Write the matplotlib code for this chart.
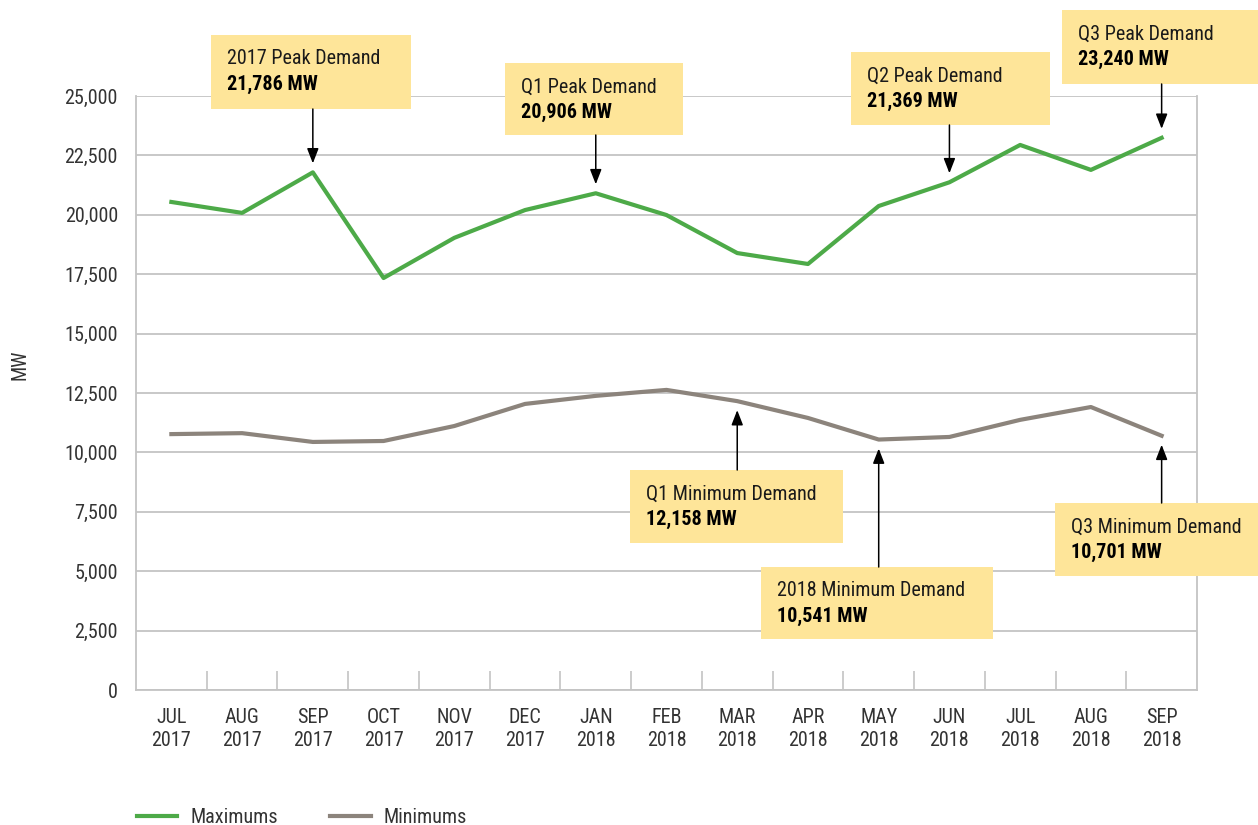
import matplotlib
matplotlib.use("Agg")
import matplotlib.pyplot as plt
from matplotlib.patches import Rectangle, FancyArrowPatch
import numpy as np

plt.rcParams['font.family'] = ['Roboto Condensed', 'DejaVu Sans']

months = ["JUL\n2017", "AUG\n2017", "SEP\n2017", "OCT\n2017", "NOV\n2017", "DEC\n2017",
          "JAN\n2018", "FEB\n2018", "MAR\n2018", "APR\n2018", "MAY\n2018", "JUN\n2018",
          "JUL\n2018", "AUG\n2018", "SEP\n2018"]
maximums = [20540, 20080, 21786, 17340, 19030, 20200, 20906, 19990, 18390, 17930,
            20370, 21369, 22940, 21890, 23240]
minimums = [10770, 10810, 10440, 10480, 11110, 12040, 12380, 12630, 12158, 11450,
            10541, 10650, 11370, 11910, 10701]
yticks = [0, 2500, 5000, 7500, 10000, 12500, 15000, 17500, 20000, 22500, 25000]

# annotations: (title, value label, series, index)
annotations = [
    ("2017 Peak Demand", "21,786 MW", "max", 2),
    ("Q1 Peak Demand", "20,906 MW", "max", 6),
    ("Q2 Peak Demand", "21,369 MW", "max", 11),
    ("Q3 Peak Demand", "23,240 MW", "max", 14),
    ("Q1 Minimum Demand", "12,158 MW", "min", 8),
    ("2018 Minimum Demand", "10,541 MW", "min", 10),
    ("Q3 Minimum Demand", "10,701 MW", "min", 14),
]
# box layout in pixels (left, top, right, bottom)
boxes = [
    (211, 35, 411, 109),
    (505, 63, 683, 135),
    (851, 52, 1050, 125),
    (1062, 10, 1258, 84),
    (630, 470, 843, 543),
    (761, 567, 993, 639),
    (1055, 503, 1258, 576),
]

W, H = 1258, 825
FS = 14.5
fig = plt.figure(figsize=(W / 100, H / 100), dpi=100)
ax = fig.add_axes([136 / W, 1 - 690 / H, (1197 - 136) / W, (690 - 96) / H])

x = np.arange(len(months))
green = "#4DAA48"
graylin = "#8C847C"
ax.plot(x, maximums, color=green, lw=3.0, label="Maximums", zorder=3)
ax.plot(x, minimums, color=graylin, lw=3.0, label="Minimums", zorder=3)

ax.set_xlim(-0.5, len(months) - 0.5)
ax.set_ylim(0, 25000)
ax.set_yticks(yticks)
ax.set_yticklabels([f"{v:,}" for v in yticks], fontsize=FS, color="#333333")
ax.set_xticks(x)
ax.set_xticklabels(months, fontsize=FS, color="#333333", linespacing=1.25)
ax.set_xticks(np.arange(0.5, len(months) - 1, 1), minor=True)
ax.tick_params(axis='x', which='major', length=0, pad=13)
ax.tick_params(axis='x', which='minor', length=14, direction='in', color="#C4C4C4", width=1.2)
ax.tick_params(axis='y', length=0, pad=13)
ax.grid(axis='y', color="#C4C4C4", lw=1.3)
ax.set_axisbelow(True)
for s in ['left', 'bottom', 'right']:
    ax.spines[s].set_color("#C4C4C4")
    ax.spines[s].set_linewidth(1.3)
ax.spines['top'].set_visible(False)

fig.text(20 / W, 1 - 365 / H, "MW", rotation=90, fontsize=FS, color="#333333",
         ha='center', va='center')

box_color = "#FEE599"
for (title, val, ser, idx), (l, t, r, b) in zip(annotations, boxes):
    fig.patches.append(Rectangle((l / W, 1 - b / H), (r - l) / W, (b - t) / H,
                                 transform=fig.transFigure, facecolor=box_color,
                                 edgecolor='none', zorder=5))
    fig.text((l + 16) / W, 1 - (t + 24) / H, title, fontsize=FS, color="#1a1a1a",
             ha='left', va='center', zorder=6)
    fig.text((l + 16) / W, 1 - (t + 49) / H, val, fontsize=FS, color="#000000",
             fontweight='bold', ha='left', va='center', zorder=6)
    yv = maximums[idx] if ser == "max" else minimums[idx]
    disp = ax.transData.transform((idx, yv))
    if ser == "max":
        start_y = 1 - b / H
        tip = (disp[0] / W, (disp[1] + 9) / H)
    else:
        start_y = 1 - t / H
        tip = (disp[0] / W, (disp[1] - 9) / H)
    fig.add_artist(FancyArrowPatch(
        (disp[0] / W, start_y), tip, transform=fig.transFigure,
        arrowstyle='-|>,head_length=9,head_width=3.5', color='black', lw=1.1,
        shrinkA=0, shrinkB=0, mutation_scale=1, zorder=6))

fig.legend(loc='lower left', bbox_to_anchor=(119 / W, -0.024), ncol=2, frameon=False,
           fontsize=FS, handlelength=2.0, columnspacing=2.6, handletextpad=0.65,
           labelcolor="#333333")

fig.savefig("out.png", dpi=100)
